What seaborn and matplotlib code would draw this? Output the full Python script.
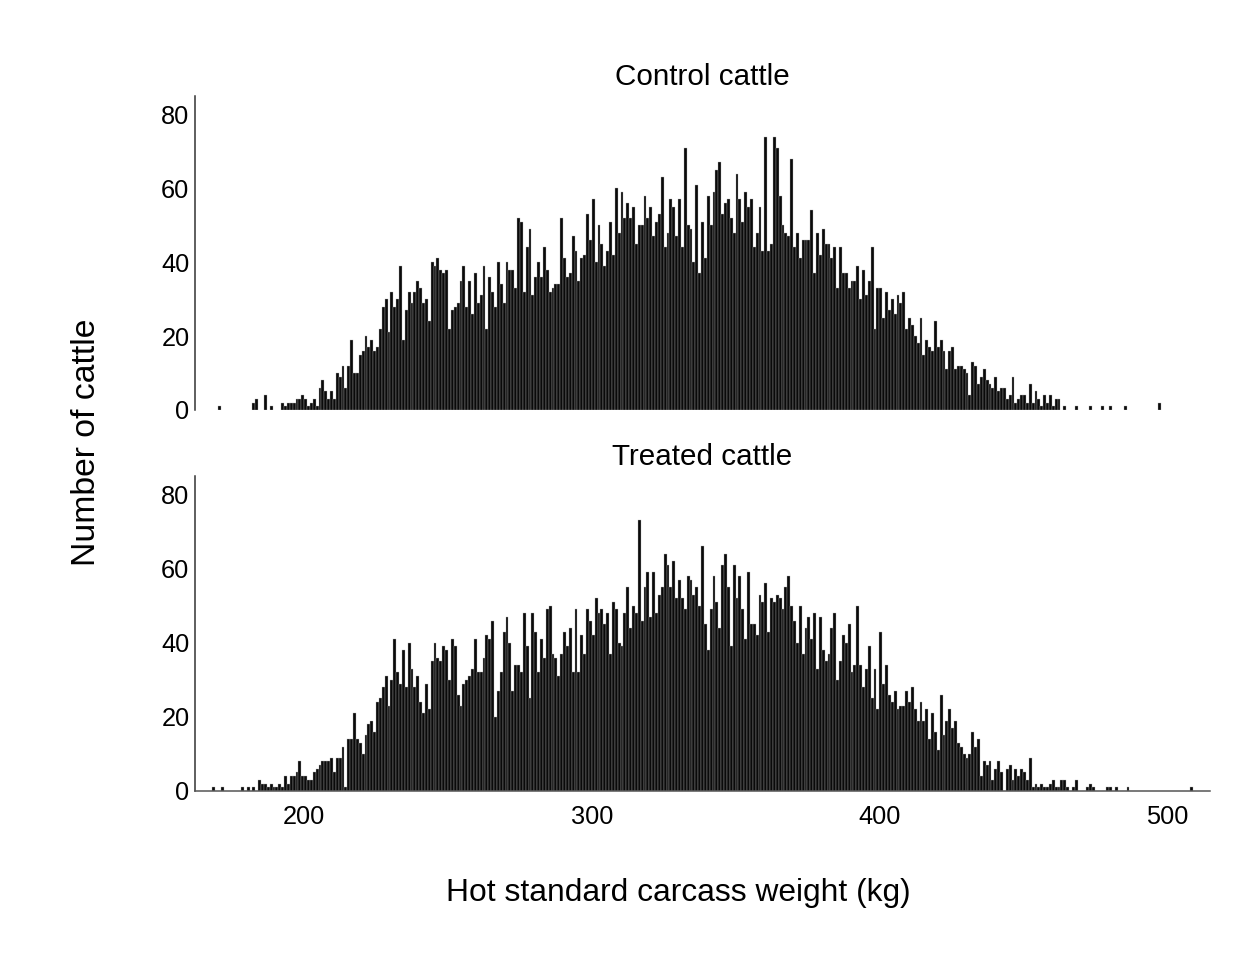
import numpy as np
import pandas as pd
import matplotlib
matplotlib.use("Agg")
import matplotlib.pyplot as plt
import seaborn as sns

# Hot standard carcass weight distributions, 1 kg bins (count of cattle per bin)
control_first_kg = 192
control_counts = [
    2, 1, 2, 2, 2, 3, 3, 4, 3, 1,          # 192-201
    2, 3, 1, 6, 8, 5, 3, 5, 3, 10,         # 202-211
    9, 12, 6, 12, 19, 10, 10, 15, 16, 20,  # 212-221
    17, 19, 16, 17, 22, 28, 30, 21, 32, 28,
    30, 39, 19, 27, 32, 29, 32, 35, 33, 29,
    30, 24, 40, 39, 41, 38, 37, 38, 22, 27,
    28, 29, 35, 39, 28, 35, 26, 37, 29, 31,
    39, 22, 36, 32, 28, 40, 34, 29, 40, 38,
    38, 33, 52, 51, 32, 44, 49, 31, 36, 40,
    36, 44, 38, 32, 33, 34, 34, 52, 41, 36,
    37, 47, 43, 35, 41, 42, 53, 46, 57, 40,
    50, 45, 39, 43, 51, 42, 60, 48, 59, 52,
    56, 52, 55, 45, 50, 50, 58, 52, 55, 47,
    51, 53, 63, 44, 48, 57, 55, 47, 57, 44,
    71, 50, 49, 40, 61, 37, 51, 41, 58, 50,
    59, 65, 67, 53, 56, 57, 52, 48, 64, 57,
    51, 59, 55, 57, 44, 48, 55, 43, 74, 43,
    45, 74, 71, 58, 50, 48, 47, 68, 44, 48,
    41, 46, 46, 46, 54, 37, 48, 42, 49, 45,
    45, 41, 44, 33, 44, 37, 37, 33, 35, 35,
    39, 30, 38, 31, 35, 44, 22, 33, 33, 25,
    32, 27, 30, 26, 31, 29, 32, 22, 25, 23,
    20, 18, 25, 15, 19, 17, 16, 24, 17, 19,
    16, 11, 16, 17, 11, 12, 12, 11, 10, 4,
    13, 12, 7, 9, 11, 8, 7, 6, 9, 5,
    6, 6, 3, 4, 9, 2, 3, 4, 4, 2,
    7, 2, 5, 3, 1, 4, 2, 4, 1, 3, 3,       # 452-462
]
control_tail_kg = [170, 182, 183, 186, 188, 464, 468, 473, 477, 480, 485, 497]
control_tail_counts = [1, 2, 3, 4, 1, 1, 1, 1, 1, 1, 1, 2]

treated_first_kg = 184
treated_counts = [
    3, 2, 2, 1, 2, 1, 1, 2, 1, 4,          # 184-193
    2, 4, 4, 5, 8, 4, 4, 3, 3, 5,
    6, 7, 8, 8, 8, 9, 5, 9, 9, 12,
    1, 14, 14, 21, 14, 13, 10, 15, 18, 19,
    16, 24, 25, 28, 31, 23, 30, 41, 32, 29,
    38, 28, 40, 33, 28, 31, 24, 21, 29, 22,
    35, 40, 36, 35, 39, 38, 30, 41, 39, 26,
    23, 29, 30, 31, 33, 41, 32, 32, 36, 42,
    41, 46, 20, 27, 32, 43, 47, 40, 27, 34,
    34, 32, 48, 39, 25, 48, 43, 32, 41, 36,
    49, 50, 37, 36, 31, 37, 43, 39, 44, 32,
    49, 32, 42, 37, 49, 46, 42, 52, 48, 49,
    45, 48, 37, 51, 49, 40, 39, 48, 55, 44,
    50, 48, 73, 46, 55, 59, 47, 59, 48, 53,
    55, 64, 61, 55, 62, 52, 57, 52, 49, 58,
    57, 53, 55, 50, 66, 45, 38, 49, 58, 51,
    44, 61, 64, 55, 39, 61, 52, 58, 49, 41,
    59, 45, 45, 42, 53, 51, 56, 43, 52, 51,
    53, 52, 49, 55, 58, 50, 46, 40, 50, 37,
    44, 47, 41, 48, 33, 47, 38, 35, 37, 44,
    48, 30, 35, 42, 40, 45, 32, 34, 50, 34,
    28, 33, 39, 25, 33, 22, 43, 29, 34, 26,
    24, 27, 22, 23, 23, 27, 24, 28, 22, 19,
    24, 19, 22, 14, 21, 16, 11, 26, 15, 19,
    22, 17, 19, 13, 12, 10, 9, 10, 16, 12,
    14, 4, 8, 7, 8, 3, 6, 8, 5, 0,
    6, 7, 3, 6, 4, 6, 5, 3, 9, 1,
    2, 1, 2, 1, 1, 2, 3, 1, 1, 3,
    3, 1, 0, 1, 3, 0, 0, 0, 1, 2, 1,       # 464-474
]
treated_tail_kg = [168, 171, 178, 180, 182, 479, 480, 482, 486, 508]
treated_tail_counts = [1, 1, 1, 1, 1, 1, 1, 1, 1, 1]

panel_titles = ["Control cattle", "Treated cattle"]
y_ticks = [0, 20, 40, 60, 80]
x_ticks = [200, 300, 400, 500]


def build_frame(first_kg, counts, tail_kg, tail_counts):
    kg = np.concatenate([first_kg + np.arange(len(counts)), tail_kg]).astype(float)
    n = np.concatenate([counts, tail_counts]).astype(float)
    return pd.DataFrame({"weight": kg + 0.5, "count": n})


frames = [
    build_frame(control_first_kg, control_counts, control_tail_kg, control_tail_counts),
    build_frame(treated_first_kg, treated_counts, treated_tail_kg, treated_tail_counts),
]

sns.set_style("white")
plt.rcParams["font.family"] = ["Liberation Sans", "DejaVu Sans"]
plt.rcParams["text.color"] = "black"
plt.rcParams["xtick.color"] = "black"
plt.rcParams["ytick.color"] = "black"

fig = plt.figure(figsize=(12.57, 9.74), dpi=100)
ax_top = fig.add_axes([0.1551, 0.5791, 0.8075, 0.3224])
ax_bot = fig.add_axes([0.1551, 0.1879, 0.8075, 0.3234])

for ax, df, title in zip([ax_top, ax_bot], frames, panel_titles):
    sns.histplot(data=df, x="weight", weights="count", binwidth=1,
                 binrange=(160, 516), ax=ax,
                 color="#0a0a0a", alpha=1.0, edgecolor="#b0b0b0", linewidth=0.25)
    # empty bins would otherwise leave a hairline of edge colour along zero
    for patch in ax.patches:
        if patch.get_height() == 0:
            patch.set_visible(False)
    ax.set_xlim(162, 515)
    ax.set_ylim(0, 85)
    ax.set_yticks(y_ticks)
    ax.set_xlabel("")
    ax.set_ylabel("")
    ax.set_title(title, fontsize=21.3, pad=8, color="black")
    for side in ["top", "right"]:
        ax.spines[side].set_visible(False)
    ax.spines["left"].set_color("#333333")
    ax.spines["left"].set_linewidth(1.1)
    ax.tick_params(axis="y", direction="in", length=7, width=1.1,
                   color="#333333", labelcolor="black", labelsize=18.3, pad=4)

ax_top.spines["bottom"].set_visible(False)
ax_top.set_xticks([])

ax_bot.spines["bottom"].set_color("#555555")
ax_bot.spines["bottom"].set_linewidth(1.1)
ax_bot.set_xticks(x_ticks)
ax_bot.tick_params(axis="x", direction="in", length=0, labelcolor="black",
                   labelsize=18.3, pad=10)

fig.text(678 / 1257, 1 - 893 / 974, "Hot standard carcass weight (kg)",
         ha="center", va="center", fontsize=22.9, color="black")
fig.text(87 / 1257, 1 - 442 / 974, "Number of cattle", rotation=90,
         ha="center", va="center", fontsize=24.3, color="black")

fig.savefig("out.png", dpi=100, facecolor="white")
